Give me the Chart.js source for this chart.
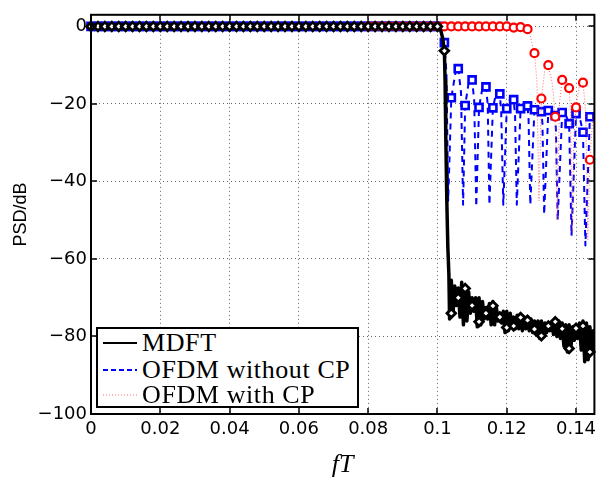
<!DOCTYPE html>
<html><head><meta charset="utf-8">
<script src="https://cdn.jsdelivr.net/npm/chart.js@4.4.0/dist/chart.umd.min.js"></script>
<style>
html,body{margin:0;padding:0;background:#fff;}
#wrap{position:relative;width:602px;height:481px;}
#legend{position:absolute;left:96px;top:327px;width:259px;height:77px;border:2px solid #000;background:#fff;font-family:'Liberation Serif',serif;font-size:26px;letter-spacing:0.6px;color:#000;}
.row{position:absolute;left:0;height:26px;line-height:26px;white-space:nowrap;}
.row svg{position:absolute;left:5px;top:0;}
.row span{position:absolute;left:44px;top:0;}
</style></head>
<body>
<div id="wrap">
<canvas id="c" width="602" height="481"></canvas>
<div id="legend">
  <div class="row" style="top:1px"><svg width="36" height="26"><line x1="0" y1="13" x2="34" y2="13" stroke="#000" stroke-width="2"/></svg><span>MDFT</span></div>
  <div class="row" style="top:28px"><svg width="36" height="26"><line x1="0" y1="13" x2="34" y2="13" stroke="#0000ff" stroke-width="2" stroke-dasharray="5,3"/></svg><span>OFDM without CP</span></div>
  <div class="row" style="top:53px"><svg width="36" height="26"><line x1="0" y1="13" x2="34" y2="13" stroke="rgba(255,70,70,0.8)" stroke-width="1" stroke-dasharray="1,2"/></svg><span>OFDM with CP</span></div>
</div>
</div>
<script>
// ---- data ----
const xTicks = [0, 0.02, 0.04, 0.06, 0.08, 0.1, 0.12, 0.14];
const yTicks = [-100, -80, -60, -40, -20, 0];

// MDFT solid line
const mdftFreq = [0, 0.1, 0.1005, 0.101, 0.1015, 0.102, 0.1022, 0.1024, 0.1027, 0.103, 0.1033,
  0.1035,0.104,0.1045,0.105,0.1055,0.106,0.1065,0.107,0.1075,0.108,0.1085,0.109,0.1095,0.11,0.1105,0.111,0.1115,0.112,0.1125,0.113,
  0.1135,0.114,0.1145,0.115,0.1155,0.116,0.1165,0.117,0.1175,0.118,0.1185,0.119,0.1195,0.12,0.1205,0.121,0.1215,0.122,0.1225,0.123,
  0.1235,0.124,0.1245,0.125,0.1255,0.126,0.1265,0.127,0.1275,0.128,0.1285,0.129,0.1295,0.13,0.1305,0.131,0.1315,0.132,0.1325,0.133,
  0.1335,0.134,0.1345,0.135,0.1355,0.136,0.1365,0.137,0.1375,0.138,0.1385,0.139,0.1395,0.14,0.1405,0.141,0.1415,0.142,0.1425,0.143,
  0.1435,0.144,0.1445,0.145,0.1455];
const mdftPSD = [0, 0, -0.3, -1.2, -3, -6.3, -14, -28, -45, -57, -64,
  -75.5,-65.5,-74,-67,-72,-67.5,-75,-66,-77,-67,
  -76,-68.5,-74,-70,-73.5,-70,-77.5,-70,-77,-71,
  -75.5,-72.5,-75.5,-71.5,-77,-71,-77,-72.5,-76,-74,
  -76.5,-73.5,-79,-73.5,-78.5,-74,-77.5,-75,-78,-74.5,
  -78,-74.5,-78.5,-75,-78,-75,-78.5,-75.5,-79,-76,
  -79.5,-76,-80.5,-76,-80,-76.5,-79,-77,-78.5,-76.5,
  -79.5,-75.5,-80,-76,-80.5,-76.5,-82.5,-77,-84,-77,
  -83,-77.5,-81,-77.5,-80.5,-76.5,-83.5,-76,-86.5,-76.5,
  -86,-77.5,-83.5,-78.5,-84.5];

// OFDM without CP dashed line
const ofdmFreq = [0, 0.1, 0.101, 0.102, 0.1026, 0.1031, 0.104, 0.1055, 0.106, 0.1068, 0.1074,
  0.108, 0.1092, 0.110, 0.1106, 0.1112, 0.112, 0.1131, 0.114, 0.1145, 0.1150,
  0.116, 0.1170, 0.118, 0.1184, 0.1190, 0.120, 0.1210, 0.122, 0.1224, 0.1229,
  0.124, 0.1249, 0.126, 0.1263, 0.1268, 0.128, 0.1289, 0.130, 0.1303, 0.1308,
  0.132, 0.1328, 0.134, 0.1342, 0.1347, 0.136, 0.1367, 0.138, 0.1387,
  0.140, 0.1408, 0.142, 0.1427, 0.144, 0.1455];
const ofdmPSD = [0, 0, -1.2, -4.2, -12, -45, -18.4, -10.3, -10.9, -17, -46,
  -20.4, -13.4, -13.8, -19, -46.5, -20.9, -15.3, -15.6, -20, -46,
  -21, -17, -17.4, -22, -46, -21.2, -18.5, -18.9, -23, -46,
  -21.2, -19.8, -20.5, -24, -46, -21.5, -21, -22, -25, -48.5,
  -21.7, -21.4, -23, -27, -50, -22.2, -22, -25.1, -54,
  -22.5, -22.4, -27.3, -56.5, -23.3, -23.5];

// OFDM with CP dotted line
const cpFreq = [0, 0.126, 0.1268, 0.128, 0.1287, 0.1293, 0.130, 0.1312, 0.132, 0.1332, 0.134,
  0.1346, 0.1352, 0.136, 0.1368, 0.138, 0.1384, 0.1389, 0.1394, 0.140, 0.1412,
  0.142, 0.1428, 0.1434, 0.144, 0.1448, 0.1455];
const cpPSD = [0, -0.7, -2.5, -6.9, -14, -45, -18.6, -9.6, -10, -15, -23.3,
  -50, -20, -13.8, -13, -15.9, -22, -53, -28, -20.9, -14,
  -14.5, -22, -55, -34.4, -24, -22];

// marker samples
const markerFreq = [0,0.002,0.004,0.006,0.008,0.01,0.012,0.014,0.016,0.018,0.02,0.022,0.024,0.026,0.028,0.03,
  0.032,0.034,0.036,0.038,0.04,0.042,0.044,0.046,0.048,0.05,0.052,0.054,0.056,0.058,0.06,0.062,0.064,0.066,0.068,0.07,
  0.072,0.074,0.076,0.078,0.08,0.082,0.084,0.086,0.088,0.09,0.092,0.094,0.096,0.098,0.1,
  0.102,0.104,0.106,0.108,0.11,0.112,0.114,0.116,0.118,0.12,0.122,0.124,0.126,0.128,0.13,0.132,0.134,0.136,0.138,0.14,0.142,0.144];
const mdftMarkers = [0,0,0,0,0,0,0,0,0,0,0,0,0,0,0,0,0,0,0,0,0,0,0,0,0,0,0,0,0,0,0,0,0,0,0,0,0,0,0,0,0,0,0,0,0,0,0,0,0,0,0,
  -6.3,-74,-70,-67.6,-72,-76.2,-74,-72.1,-75,-77.7,-77.3,-75.1,-75.8,-78.1,-79.8,-77.3,-76.2,-78,-83.1,-77.9,-77.3,-84];
const ofdmMarkers = [0,0,0,0,0,0,0,0,0,0,0,0,0,0,0,0,0,0,0,0,0,0,0,0,0,0,0,0,0,0,0,0,0,0,0,0,0,0,0,0,0,0,0,0,0,0,0,0,0,0,0,
  -4.2,-18.4,-10.9,-20.4,-13.8,-20.9,-15.6,-21,-17.4,-21.2,-18.9,-21.2,-20.5,-21.5,-22,-21.7,-23,-22.2,-25.1,-22.5,-27.3,-23.3];
const cpMarkerFreq = [0.08,0.082,0.084,0.086,0.088,0.09,0.092,0.094,0.096,0.098,0.1,0.102,0.104,0.106,0.108,0.11,
  0.112,0.114,0.116,0.118,0.12,0.122,0.124,0.126,0.128,0.13,0.132,0.134,0.136,0.138,0.14,0.142,0.144];
const cpMarkers = [0,0,0,0,0,0,0,0,0,0,0,0,0,0,0,0,0,0,0,0,0,-0.3,-0.2,-0.7,-6.9,-18.6,-10,-23.3,-13.8,-15.9,-20.9,-14.5,-34.4];

// ---- chart ----
const pts = (xs, ys) => xs.map((x, i) => ({x: x, y: ys[i]}));
const fmt = v => { const n = +(+v).toFixed(4); return (n < 0 ? '\u2212' : '') + String(Math.abs(n)); };

const framePlugin = {
  id: 'frame',
  afterDraw(chart) {
    const {ctx, chartArea: a, scales: {x, y}} = chart;
    ctx.save();
    ctx.strokeStyle = '#000';
    ctx.lineWidth = 1.5;
    const L = 6;
    ctx.beginPath();
    xTicks.forEach(v => {
      const px = Math.round(x.getPixelForValue(v));
      ctx.moveTo(px, a.bottom); ctx.lineTo(px, a.bottom - L);
      ctx.moveTo(px, a.top); ctx.lineTo(px, a.top + L);
    });
    yTicks.forEach(v => {
      const py = Math.round(y.getPixelForValue(v));
      ctx.moveTo(a.left, py); ctx.lineTo(a.left + L, py);
      ctx.moveTo(a.right, py); ctx.lineTo(a.right - L, py);
    });
    ctx.stroke();
    ctx.lineWidth = 2;
    ctx.strokeRect(a.left, a.top, a.right - a.left, a.bottom - a.top);
    ctx.restore();
  }
};

new Chart(document.getElementById('c'), {
  type: 'line',
  data: {
    datasets: [
      { label: 'MDFT markers', data: pts(markerFreq, mdftMarkers), showLine: false, order: 0, clip: false,
        pointStyle: 'rectRot', pointRadius: 4.3, borderColor: '#000', backgroundColor: '#fff', pointBorderWidth: 2.8 },
      { label: 'MDFT', data: pts(mdftFreq, mdftPSD), order: 1, borderColor: '#000', borderWidth: 3.5, pointRadius: 0, tension: 0,
        borderJoinStyle: 'round' },
      { label: 'CP markers', data: pts(cpMarkerFreq, cpMarkers), showLine: false, order: 2, clip: false,
        pointStyle: 'circle', pointRadius: 4, borderColor: '#ff0000', backgroundColor: '#fff', pointBorderWidth: 2.2 },
      { label: 'OFDM with CP', data: pts(cpFreq, cpPSD), order: 3, borderColor: 'rgba(255,70,70,0.8)', borderWidth: 1,
        borderDash: [1, 2], pointRadius: 0, tension: 0, borderJoinStyle: 'round' },
      { label: 'OFDM markers', data: pts(markerFreq, ofdmMarkers), showLine: false, order: 4, clip: false,
        pointStyle: 'rect', pointRadius: 5, borderColor: '#0000ff', backgroundColor: '#fff', pointBorderWidth: 2.6 },
      { label: 'OFDM without CP', data: pts(ofdmFreq, ofdmPSD), order: 5, borderColor: '#0000ff', borderWidth: 2,
        borderDash: [6, 5], pointRadius: 0, tension: 0, borderJoinStyle: 'round' }
    ]
  },
  options: {
    responsive: false, animation: false, devicePixelRatio: 1,
    layout: { padding: { top: 14, right: 3, left: 0, bottom: 0 } },
    plugins: { legend: { display: false }, tooltip: { enabled: false } },
    scales: {
      x: {
        type: 'linear', min: 0, max: 0.1453,
        afterFit: s => { s.height = 67; },
        afterBuildTicks: s => { s.ticks = xTicks.map(v => ({value: v})); },
        ticks: { includeBounds: false, autoSkip: false, maxRotation: 0, padding: 5, color: '#000',
                 font: { family: 'DejaVu Sans', size: 18 }, callback: v => fmt(v) },
        grid: { color: 'rgba(0,0,0,0.6)', lineWidth: 1, drawTicks: false },
        border: { display: false, dash: [1, 3] },
        title: { display: true, text: 'fT', color: '#000', font: { family: 'Liberation Serif', style: 'italic', size: 26 },
                 padding: { top: 10, bottom: 0 } }
      },
      y: {
        type: 'linear', min: -100, max: 3,
        afterFit: s => { s.width = 91; },
        afterBuildTicks: s => { s.ticks = yTicks.map(v => ({value: v})); },
        ticks: { includeBounds: false, autoSkip: false, padding: 4, color: '#000',
                 font: { family: 'DejaVu Sans', size: 18 }, callback: v => fmt(v) },
        grid: { color: 'rgba(0,0,0,0.6)', lineWidth: 1, drawTicks: false },
        border: { display: false, dash: [1, 3] },
        title: { display: true, text: 'PSD/dB', color: '#000', font: { family: 'Liberation Sans', size: 18 },
                 padding: { top: 10, bottom: 0 } }
      }
    }
  },
  plugins: [framePlugin]
});
</script>
</body></html>
